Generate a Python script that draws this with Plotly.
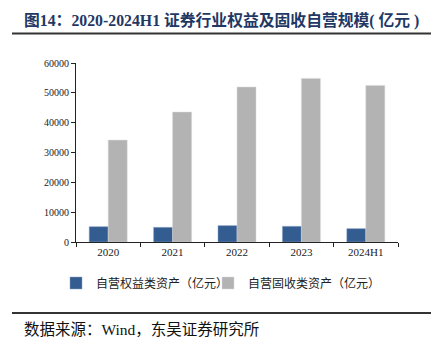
import plotly.graph_objects as go

categories = ["2020", "2021", "2022", "2023", "2024H1"]
equity = [5140, 4920, 5490, 5260, 4480]
fixed_income = [34150, 43550, 51950, 54840, 52490]
series_names = ["自营权益类资产（亿元）", "自营固收类资产（亿元）"]
y_ticks = [0, 10000, 20000, 30000, 40000, 50000, 60000]

W, H = 431, 342
L, R, T, B = 76, 33, 63, 100
PW, PH = W - L - R, H - T - B

def px(x):
    return (x - L) / PW

def py(y):
    return (H - B - y) / PH

serif = "Liberation Serif, Times New Roman, serif"
cjk = "Liberation Serif, Noto Sans CJK SC, serif"

fig = go.Figure()
fig.add_trace(go.Bar(x=categories, y=equity, name=series_names[0], legend="legend",
                     marker=dict(color="#335C91", line=dict(color="#8FA6C4", width=0.5))))
fig.add_trace(go.Bar(x=categories, y=fixed_income, name=series_names[1], legend="legend2",
                     marker=dict(color="#B3B3B3", line=dict(color="#D9D9D9", width=0.5))))

leg_common = dict(orientation="h", yanchor="middle", xanchor="left",
                  font=dict(family=cjk, size=12, color="#222"),
                  itemwidth=30, bgcolor="rgba(0,0,0,0)")

fig.update_layout(
    width=W, height=H,
    margin=dict(l=L, r=R, t=T, b=B, pad=0),
    paper_bgcolor="white", plot_bgcolor="white",
    barmode="group", bargap=0.41, bargroupgap=0,
    showlegend=True,
    legend=dict(x=px(56), y=py(283), **leg_common),
    legend2=dict(x=px(208), y=py(283), **leg_common),
    font=dict(family=serif, color="#222"),
)
fig.update_xaxes(type="category", range=[-0.5, 4.5], showline=True, linecolor="#222", linewidth=1,
                 ticks="outside", ticklen=4, tickcolor="#222", tickson="boundaries",
                 tickfont=dict(family=serif, size=11, color="#222"), showgrid=False, fixedrange=True)
fig.update_yaxes(range=[0, 60000], tickvals=y_ticks, tickformat="d", showline=True, linecolor="#222",
                 linewidth=1, ticks="outside", ticklen=4, tickcolor="#222", showgrid=False, zeroline=False,
                 tickfont=dict(family=serif, size=10, color="#222"), fixedrange=True)

fig.add_annotation(text="<b>图14：2020-2024H1 证券行业权益及固收自营规模( 亿元 )</b>",
                   xref="paper", yref="paper", x=px(22), y=py(20), xanchor="left", yanchor="middle",
                   showarrow=False, font=dict(family=cjk, size=15.8, color="#1F3864"))
fig.add_annotation(text="数据来源：Wind，东吴证券研究所",
                   xref="paper", yref="paper", x=px(22), y=py(329), xanchor="left", yanchor="middle",
                   showarrow=False, font=dict(family=cjk, size=15.5, color="#111"))
fig.add_shape(type="line", xref="paper", yref="paper", x0=px(12), x1=px(431), y0=py(33.5), y1=py(33.5),
              line=dict(color="#333", width=2))
fig.add_shape(type="line", xref="paper", yref="paper", x0=px(12), x1=px(431), y0=py(313), y1=py(313),
              line=dict(color="#333", width=2))

fig.write_html("out.html")
